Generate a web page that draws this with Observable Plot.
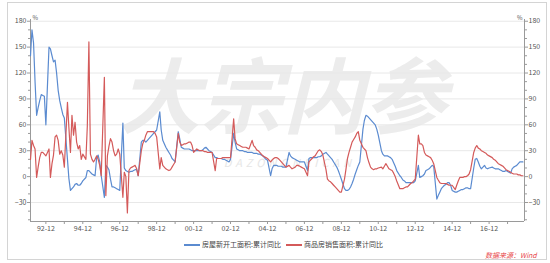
<!DOCTYPE html>
<html><head><meta charset="utf-8">
<script src="https://cdn.jsdelivr.net/npm/d3@7"></script>
<script src="https://cdn.jsdelivr.net/npm/@observablehq/plot@0.6"></script>
<style>
body{margin:0;background:#fff;font-family:"Noto Sans CJK SC","Noto Sans",sans-serif;}
#wrap{position:relative;width:550px;height:263px;overflow:hidden;background:#fff;}
#border{position:absolute;left:7px;top:2px;width:540px;height:258px;border:1px solid #d4d4d4;box-sizing:border-box;}
#chart{position:absolute;left:0;top:0;}
#legend{position:absolute;top:239px;left:184px;font-size:7px;color:#444;white-space:nowrap;line-height:10px;}
.sw{display:inline-block;width:16px;height:1.4px;vertical-align:middle;margin-right:2px;}
#source{position:absolute;left:485px;top:250px;font-size:7px;color:#e8474a;font-style:italic;white-space:nowrap;}
</style></head>
<body>
<div id="wrap"><div id="border"></div><div id="chart"></div><div id="legend"></div><div id="source">数据来源：Wind</div></div>
<script>
const years = [1992,1993,1994,1995,1996,1997,1998,1999,2000,2001,2002,2003,2004,2005,2006,2007,2008,2009,2010,2011,2012,2013,2014,2015,2016,2017,2018];
const months = [2,3,4,5,6,7,8,9,10,11,12];
const seriesNames = ["房屋新开工面积:累计同比","商品房销售面积:累计同比"];
const colors = ["#5b8bd0","#d45a5a"];

// 房屋新开工面积:累计同比 (%), Feb..Dec per year
const newStarts = [
 [140,170,155,110,71,80,88,95,94,93,60],
 [150,148,140,133,135,120,100,88,80,72,68],
 [20,-2,-16,-14,-12,-9,-8,-10,-10,-8,-5],
 [-1,7,7,5,3,2,1,22,25,17,1],
 [-24,13,11,8,-3,-12,-12,-13,-14,-15,-16],
 [62,10,7,6,5,6,6,7,8,8,1],
 [40,42,42,40,42,44,46,48,50,52,54],
 [75,54,42,38,34,31,28,25,21,19,17],
 [52,44,34,33,32,32,32,32,31,30,30],
 [30,30,30,30,31,33,34,32,30,29,28],
 [22,22,21,21,21,20,20,19,18,17,20],
 [50,40,32,31,30,30,30,29,29,28,28],
 [28,27,27,27,26,26,25,24,22,20,19],
 [1,9,13,13,13,12,12,12,11,11,11],
 [28,24,22,21,20,19,18,17,17,17,17],
 [7,21,22,22,22,22,22,23,23,24,26],
 [28,26,24,22,20,17,14,11,7,2,-3],
 [-14,-16,-16,-15,-12,-8,-3,3,8,13,17],
 [55,65,71,70,68,66,64,62,60,55,48],
 [30,26,24,24,24,23,22,20,16,12,7],
 [1,-1,-4,-5,-7,-7,-7,-7,-7,-7,-5],
 [13,-1,0,1,3,7,8,9,11,13,12],
 [-26,-22,-18,-14,-12,-10,-9,-7,-7,-10,-16],
 [-18,-18,-17,-16,-15,-15,-14,-13,-13,-14,-14],
 [10,20,21,17,12,9,11,13,10,9,10],
 [11,10,9,9,9,8,7,6,6,7,6],
 [4,9,11,12,13,15,17,17,17]
];

// 商品房销售面积:累计同比 (%), Feb..Dec per year
const salesArea = [
 [20,42,36,32,-1,11,22,28,28,26,24],
 [32,-1,15,25,46,48,42,26,30,25,11],
 [86,57,28,71,48,63,40,32,36,20,26],
 [20,59,156,26,20,17,20,24,20,13,1],
 [115,-22,24,35,44,40,30,24,26,32,26],
 [-24,5,0,-42,7,10,11,12,13,9,1],
 [30,38,42,48,52,52,52,52,52,50,46],
 [9,22,13,11,9,8,7,8,11,14,17],
 [50,40,36,37,38,38,39,40,40,36,28],
 [32,31,30,30,30,29,29,28,28,28,28],
 [7,21,21,21,21,22,22,22,22,22,22],
 [67,44,38,37,36,35,34,34,34,33,32],
 [42,36,34,31,30,28,26,24,23,22,21],
 [17,19,21,22,22,21,19,17,15,13,11],
 [13,11,9,10,11,13,13,12,11,10,9],
 [1,17,19,21,23,24,27,30,31,29,25],
 [8,-3,-5,-6,-8,-10,-12,-14,-16,-18,-18],
 [-3,8,21,28,34,40,43,46,50,52,42],
 [34,32,30,22,16,11,9,8,9,9,10],
 [11,9,12,15,12,9,8,7,4,0,-5],
 [-14,-14,-14,-13,-12,-12,-10,-8,-7,-5,-3],
 [48,38,38,36,28,25,24,23,22,19,15],
 [-1,-4,-7,-8,-8,-8,-8,-9,-10,-10,-10],
 [-15,-10,-5,-1,-1,-1,0,0,1,3,8],
 [28,33,36,33,32,30,29,28,27,25,24],
 [22,20,19,17,15,14,13,12,10,8,7],
 [5,4,3,3,3,2,2,1,1]
];

const yTicks = [-30,0,30,60,90,120,150,180];
const yMinorTicks = [-50,-40,-20,-10,10,20,40,50,70,80,100,110,130,140,160,170];
const xTickLabels = ["92-12","94-12","96-12","98-12","00-12","02-12","04-12","06-12","08-12","10-12","12-12","14-12","16-12"];

function toRows(table, name) {
  const rows = [];
  table.forEach((vals, i) => vals.forEach((v, j) => rows.push({date: new Date(Date.UTC(years[i], months[j] - 1, 1)), value: v, series: name})));
  return rows;
}
const blueRows = toRows(newStarts, seriesNames[0]);
const redRows = toRows(salesArea, seriesNames[1]);

const x0 = new Date(Date.UTC(1992, 1, 1));
const x1 = new Date(Date.UTC(2018, 10, 1));
const decTicks = years.slice(0, 26).map(y => new Date(Date.UTC(y, 11, 1)));
const fmtX = d => { const lab = String(d.getUTCFullYear()).slice(2) + "-12"; return xTickLabels.includes(lab) ? lab : ""; };

const axisColor = "#9a9a9a";
const plot = Plot.plot({
  width: 550, height: 236,
  marginLeft: 30, marginRight: 26, marginTop: 19, marginBottom: 15,
  x: {type: "utc", domain: [x0, x1]},
  y: {domain: [-52, 182]},
  style: {fontFamily: '"Noto Sans CJK SC","Noto Sans",sans-serif', fontSize: "7px", background: "transparent", overflow: "visible"},
  marks: [
    Plot.text(["大宗内参"], {frameAnchor: "middle", dx: 5, dy: -20, fontSize: 82, fontWeight: "bold", fontStyle: "italic", fill: "#ececec"}),
    Plot.text(["DAZONGNEICAN"], {frameAnchor: "middle", dx: 12, dy: 43, fontSize: 11, fontStyle: "italic", fill: "#e6e6e6"}),
    Plot.gridY(yTicks, {stroke: "#e8e8e8", strokeOpacity: 1}),
    Plot.ruleX([x0], {stroke: axisColor}),
    Plot.ruleX([x1], {stroke: axisColor}),
    Plot.ruleY([-52], {stroke: axisColor}),
    Plot.axisY(yTicks, {anchor: "left", tickSize: 3, tickPadding: 1, stroke: axisColor, fill: "#555", label: null}),
    Plot.axisY(yMinorTicks, {anchor: "left", tickSize: 2, stroke: axisColor, tickFormat: () => "", label: null}),
    Plot.axisY(yTicks, {anchor: "right", tickSize: 3, tickPadding: 1, stroke: axisColor, fill: "#555", label: null}),
    Plot.axisY(yMinorTicks, {anchor: "right", tickSize: 2, stroke: axisColor, tickFormat: () => "", label: null}),
    Plot.axisX(decTicks, {tickSize: 3, tickPadding: 2, stroke: axisColor, fill: "#555", tickFormat: fmtX, label: null}),
    Plot.text(["%"], {frameAnchor: "top-left", dx: 2, dy: -4, fontSize: 6, fill: "#555"}),
    Plot.text(["%"], {frameAnchor: "top-right", dx: -2, dy: -4, fontSize: 6, fill: "#555"}),
    Plot.lineY(blueRows, {x: "date", y: "value", stroke: colors[0], strokeWidth: 1.2}),
    Plot.lineY(redRows, {x: "date", y: "value", stroke: colors[1], strokeWidth: 1.2})
  ]
});
document.getElementById("chart").appendChild(plot);
d3.select(plot).selectAll("text").filter(function(){ return this.textContent === "DAZONGNEICAN"; }).style("letter-spacing", "4px");

const legend = document.getElementById("legend");
legend.innerHTML = seriesNames.map((n, i) =>
  `<span class="sw" style="background:${colors[i]};${i ? "margin-left:5px;" : ""}"></span>${n}`).join("");
</script>
</body></html>
